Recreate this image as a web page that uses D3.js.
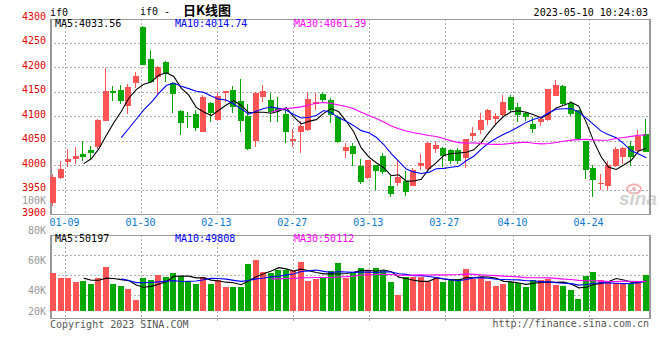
<!DOCTYPE html>
<html><head><meta charset="utf-8">
<script src="https://cdn.jsdelivr.net/npm/d3@7"></script>
<style>body{margin:0;background:#fff}svg{display:block}</style>
</head><body><svg id="c" width="660" height="360"></svg>
<script>
const dates = ["2023-01-05","2023-01-06","2023-01-09","2023-01-10","2023-01-11","2023-01-12","2023-01-13","2023-01-16","2023-01-17","2023-01-18","2023-01-19","2023-01-20","2023-01-30","2023-01-31",
"2023-02-01","2023-02-02","2023-02-03","2023-02-06","2023-02-07","2023-02-08","2023-02-09","2023-02-10","2023-02-13","2023-02-14","2023-02-15","2023-02-16","2023-02-17","2023-02-20","2023-02-21","2023-02-22","2023-02-23","2023-02-24","2023-02-27","2023-02-28",
"2023-03-01","2023-03-02","2023-03-03","2023-03-06","2023-03-07","2023-03-08","2023-03-09","2023-03-10","2023-03-13","2023-03-14","2023-03-15","2023-03-16","2023-03-17","2023-03-20","2023-03-21","2023-03-22","2023-03-23","2023-03-24","2023-03-27","2023-03-28","2023-03-29","2023-03-30","2023-03-31",
"2023-04-03","2023-04-04","2023-04-06","2023-04-07","2023-04-10","2023-04-11","2023-04-12","2023-04-13","2023-04-14","2023-04-17","2023-04-18","2023-04-19","2023-04-20","2023-04-21","2023-04-24","2023-04-25","2023-04-26","2023-04-27","2023-04-28",
"2023-05-04","2023-05-05","2023-05-08","2023-05-09"];
const open  = [3923,3973,4007,4012,4022,4030,4036,4090,4151,4153,4121,4168,4282,4216,4180,4210,4167,4111,4100,4104,4068,4126,4092,4147,4153,4130,4100,4049,4139,4132,4116,4104,4050,4068,4071,4124,4145,4132,4097,4029,4039,3998,3973,4000,4018,3957,3964,3967,3958,3998,3992,4032,4034,4030,4030,4015,4060,4071,4092,4094,4102,4138,4118,4107,4083,4087,4092,4141,4161,4126,4112,4049,3993,3961,3958,3998,4017,4039,4028,4063];
const high  = [3981,4009,4032,4037,4049,4038,4093,4198,4162,4163,4166,4189,4284,4234,4202,4212,4170,4113,4109,4113,4143,4128,4146,4152,4161,4175,4124,4148,4163,4147,4138,4114,4073,4090,4149,4147,4149,4137,4103,4044,4045,4012,4011,4001,4024,3978,4010,3988,3993,4022,4047,4049,4036,4032,4035,4054,4077,4107,4114,4106,4143,4143,4126,4109,4098,4100,4155,4173,4163,4131,4113,4050,4000,3981,4009,4037,4037,4049,4071,4094];
const low   = [3917,3971,3996,4002,4009,4011,4033,4089,4130,4124,4104,4158,4204,4168,4145,4170,4107,4062,4075,4069,4067,4088,4090,4128,4107,4068,4030,4036,4128,4088,4088,4045,4036,4025,4070,4112,4128,4086,4044,4015,3998,3961,3971,3949,3981,3935,3957,3937,3957,3990,3990,4025,3996,4003,4002,3993,4049,4063,4081,4081,4097,4109,4088,4090,4066,4079,4090,4141,4122,4100,4053,3971,3935,3949,3950,3996,4003,3998,4027,4026];
const close = [3975,3992,4013,4018,4016,4025,4092,4151,4147,4131,4160,4181,4205,4170,4200,4185,4144,4086,4097,4076,4138,4107,4141,4151,4119,4090,4032,4147,4151,4108,4110,4068,4053,4080,4134,4128,4132,4102,4047,4037,4022,3966,4010,3988,3986,3941,3975,3945,3989,4004,4045,4041,4018,4009,4009,4053,4066,4091,4112,4100,4128,4112,4102,4097,4074,4094,4155,4163,4124,4104,4054,3990,3969,3964,4000,4032,4035,4017,4060,4027];
const volume = [55700,52400,52400,49700,50400,48400,52400,59700,48400,46800,45100,37700,52400,51100,54200,53100,55700,53700,50400,48400,53100,48400,50800,46400,46400,46400,61700,64200,56400,55700,57500,57500,56800,63100,50400,51500,53100,56800,62400,52400,55300,59100,57500,59100,56800,49700,40800,53100,53100,53100,49700,51900,49700,51300,51300,58200,51300,53100,50400,46800,48200,49700,49100,45900,50800,50800,51300,47500,46800,44200,38400,53500,56200,50800,50200,48600,48600,49100,50400,54200];
const priceTicks = [3900,3950,4000,4050,4100,4150,4200,4250,4300];
const volTicks = [100000,80000,60000,40000,20000];
const volTickLabels = ["100K","80K","60K","40K","20K"];
const dateTicks = ["01-09","01-30","02-13","02-27","03-13","03-27","04-10","04-24"];
const maPeriods = [5,10,30];
const maColors = ["#000000","#0000ff","#ff00ff"];
const priceMaLabels = ["MA5:4033.56","MA10:4014.74","MA30:4061.39"];
const volMaLabels = ["MA5:50197","MA10:49808","MA30:50112"];
const symbol = "if0";
const title = "if0 - ";
const titleCn = "日K线图";
const stamp = "2023-05-10 10:24:03";
const copyright = "Copyright 2023 SINA.COM";
const url = "http://finance.sina.com.cn";

const RED = "#ff5454", GREEN = "#00a800";
const MONO = "'DejaVu Sans Mono', 'Liberation Mono', monospace";
const L = 50, R = 650, mTop = 19, mBot = 214, vTop = 235, vBot = 318, vBase = 311;

const svg = d3.select("#c");
const n = dates.length;
const idx = d3.range(n);
const xB = d3.scaleBand().domain(idx).range([L, R]).paddingInner(0.2).paddingOuter(0.1);
const xG = d3.scaleLinear().domain([0, n - 1]).range([L + 0.3, R + 0.3]);
const yP = d3.scaleLinear().domain([3900, 4300]).range([mBot, 18]);
const yV = d3.scaleLinear().domain([30200, 100000]).range([vBase, vBase - 1.5 * 69.8]);
const bw = Math.round(xB.bandwidth());

function ma(arr, p) {
  const out = [];
  for (let i = p - 1; i < arr.length; i++) out.push({i, v: d3.mean(arr.slice(i - p + 1, i + 1))});
  return out;
}

// watermark
const wm = svg.append("g");
wm.append("ellipse").attr("cx", 634).attr("cy", 189).attr("rx", 7).attr("ry", 4.5).attr("fill", "none").attr("stroke", "#f3b3b3").attr("stroke-width", 2);
wm.append("circle").attr("cx", 634).attr("cy", 189).attr("r", 2).attr("fill", "#f3b3b3");
wm.append("text").attr("x", 619).attr("y", 205).attr("font-family", "'Liberation Sans', Arial, sans-serif").attr("font-size", 19).attr("font-weight", "bold").attr("font-style", "italic").attr("fill", "#d2d2d2").text("sina");

// grids
const grid = svg.append("g").attr("stroke", "#b0b0b0").attr("stroke-dasharray", "2,2").attr("shape-rendering", "crispEdges");
const tickIdx = dateTicks.map(t => dates.findIndex(d => d.slice(5) === t));
tickIdx.forEach(i => {
  const x = Math.floor(xG(i)) + 0.5;
  grid.append("line").attr("x1", x).attr("x2", x).attr("y1", mTop).attr("y2", mBot);
  grid.append("line").attr("x1", x).attr("x2", x).attr("y1", vTop).attr("y2", vBot + 3);
});
priceTicks.slice(1, -1).forEach(p => {
  const y = Math.round(yP(p)) + 0.5;
  grid.append("line").attr("x1", L).attr("x2", R).attr("y1", y).attr("y2", y);
});
[1, 2, 3].forEach(k => {
  const y = vTop + k * 20 + 0.5;
  grid.append("line").attr("x1", L).attr("x2", R).attr("y1", y).attr("y2", y);
});

// borders
const bd = svg.append("g").attr("stroke", "#999").attr("shape-rendering", "crispEdges");
[[mTop, mBot], [vTop, vBot]].forEach(([t, b]) => {
  bd.append("line").attr("x1", L).attr("x2", R).attr("y1", t + 0.5).attr("y2", t + 0.5);
  bd.append("line").attr("x1", L).attr("x2", R).attr("y1", b + 0.5).attr("y2", b + 0.5);
  bd.append("line").attr("x1", L + 1).attr("x2", L + 1).attr("y1", t).attr("y2", b + 1).attr("stroke-width", 2);
  bd.append("line").attr("x1", R - 0.5).attr("x2", R - 0.5).attr("y1", t).attr("y2", b + 1).attr("stroke-width", 2);
});

// candles
const cg = svg.append("g").attr("shape-rendering", "crispEdges");
const cs = cg.selectAll("g").data(idx).join("g");
const col = i => close[i] >= open[i] ? RED : GREEN;
cs.append("line")
  .attr("x1", i => Math.floor(xB(i)) + 2.5).attr("x2", i => Math.floor(xB(i)) + 2.5)
  .attr("y1", i => yP(high[i])).attr("y2", i => yP(low[i])).attr("stroke", col);
cs.append("rect")
  .attr("x", i => Math.floor(xB(i))).attr("width", bw)
  .attr("y", i => yP(Math.max(open[i], close[i])))
  .attr("height", i => Math.max(1, yP(Math.min(open[i], close[i])) - yP(Math.max(open[i], close[i]))))
  .attr("fill", col);

// volume bars
svg.append("g").attr("shape-rendering", "crispEdges").selectAll("rect").data(idx).join("rect")
  .attr("x", i => Math.floor(xB(i))).attr("width", bw)
  .attr("y", i => yV(volume[i])).attr("height", i => vBase - yV(volume[i]))
  .attr("fill", col);

// MA lines
maPeriods.forEach((p, k) => {
  const lp = d3.line().x(d => xB(d.i) + xB.bandwidth() / 2).y(d => yP(d.v));
  svg.append("path").attr("d", lp(ma(close, p))).attr("fill", "none").attr("stroke", maColors[k]).attr("stroke-width", 1.1);
  const lv = d3.line().x(d => xB(d.i) + xB.bandwidth() / 2).y(d => yV(d.v));
  svg.append("path").attr("d", lv(ma(volume, p))).attr("fill", "none").attr("stroke", maColors[k]).attr("stroke-width", 1.1);
});

// texts
const txt = (x, y, s, fill, anchor, size) => svg.append("text").attr("x", x).attr("y", y).attr("dy", "0.35em")
  .attr("font-family", MONO).attr("font-size", size || 10).attr("fill", fill).attr("text-anchor", anchor || "start").text(s);

priceTicks.forEach(p => txt(46, yP(p) - 2, p, "#e00000", "end"));
volTicks.forEach((v, k) => txt(46, Math.min(yV(v) - 6, vBase), volTickLabels[k], "#999", "end"));
tickIdx.forEach((i, k) => txt(xG(i) - 1, 222, dateTicks[k], "#0a78d2", "middle"));

const maX = [55, 175, 294];
priceMaLabels.forEach((s, k) => txt(maX[k], 23.5, s, maColors[k]));
volMaLabels.forEach((s, k) => txt(maX[k], 238.5, s, maColors[k]));

txt(50, 12, symbol, "#000");
const tt = txt(140, 11, title, "#000");
tt.append("tspan").attr("x", 183).attr("font-family", "'Noto Sans CJK SC', sans-serif").attr("font-size", 13).attr("font-weight", "bold").text(titleCn);
txt(648, 12, stamp, "#000", "end");
txt(50, 324, copyright, "#555");
txt(649, 323.5, url, "#555", "end");
</script></body></html>
